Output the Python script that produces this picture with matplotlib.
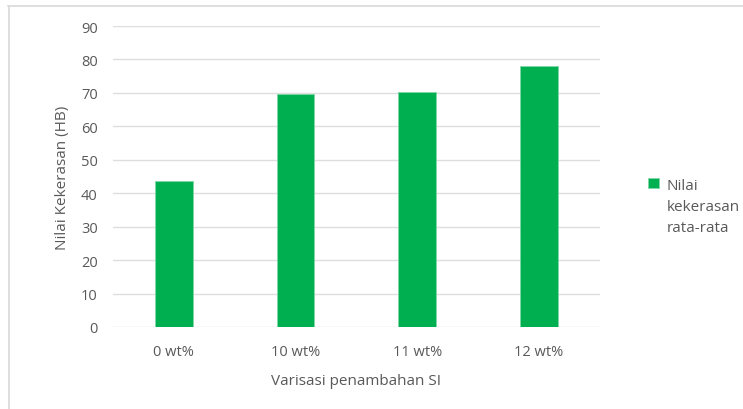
import matplotlib
matplotlib.use("Agg")
import matplotlib.pyplot as plt
from matplotlib.lines import Line2D

plt.rcParams['font.family'] = ['Open Sans', 'DejaVu Sans']

# data
categories = ["0 wt%", "10 wt%", "11 wt%", "12 wt%"]
hardness = [43.6, 69.7, 70.2, 78.2]
series_name = "Nilai\nkekerasan\nrata-rata"

text_col = "#595959"
bar_col = "#00B050"

fig = plt.figure(figsize=(7.43, 4.10), dpi=100)
ax = fig.add_axes([0.152, 0.2, 0.6555, 0.734])

ax.bar(range(len(categories)), hardness, width=0.31, color=bar_col,
       edgecolor="#7fd6a6", linewidth=0.6, label=series_name, zorder=3)

ax.set_ylim(0, 90)
ax.set_yticks(range(0, 91, 10))
ax.set_xlim(-0.5, len(categories) - 0.5)
ax.set_xticks(range(len(categories)))
ax.set_xticklabels(categories)
ax.grid(axis="y", color="#dedede", linewidth=1, zorder=0)
for s in ax.spines.values():
    s.set_visible(False)
ax.tick_params(axis="both", length=0, colors=text_col, labelsize=10.5)
ax.tick_params(axis="y", pad=11)
ax.tick_params(axis="x", pad=12)

ax.set_ylabel("Nilai Kekerasan (HB)", color=text_col, fontsize=11, labelpad=8)
ax.set_xlabel("Varisasi penambahan SI", color=text_col, fontsize=11, labelpad=10)

leg = ax.legend(loc="upper left", bbox_to_anchor=(1.087, 0.517), frameon=False,
                handlelength=0.7, handleheight=0.7, handletextpad=0.5,
                fontsize=11, labelcolor=text_col, borderaxespad=0)
for t in leg.get_texts():
    t.set_linespacing(1.55)
# put the square next to the first line
for col in leg._legend_handle_box.get_children():
    for row in col.get_children():
        row.align = "top"

# chart area border (top and left visible)
fig.add_artist(Line2D([8 / 743, 1], [1 - 7 / 410, 1 - 7 / 410], color="#d9d9d9", linewidth=1.2))
fig.add_artist(Line2D([9 / 743, 9 / 743], [0, 1 - 7 / 410], color="#d9d9d9", linewidth=1.2))

fig.savefig("out.png", dpi=100)
